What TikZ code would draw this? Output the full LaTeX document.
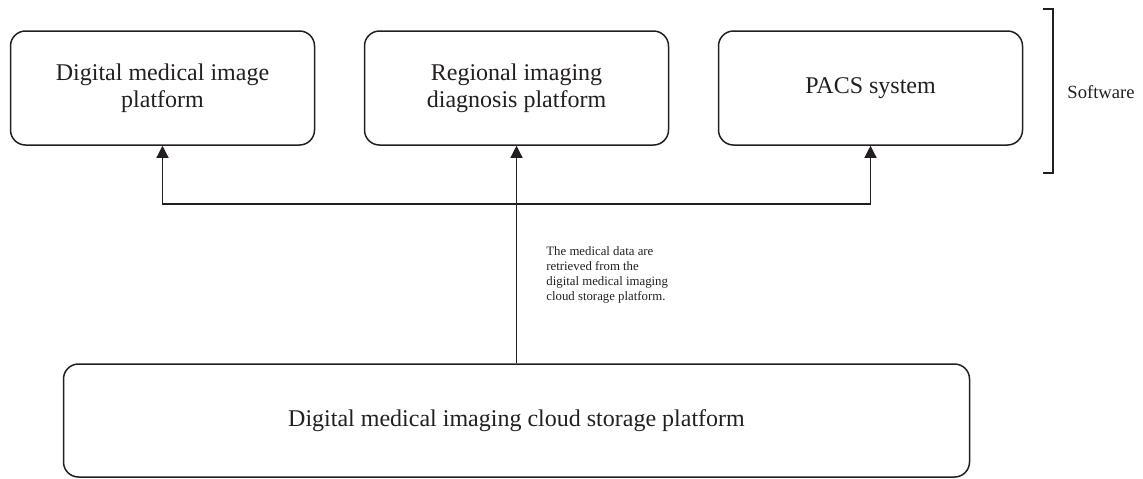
\documentclass[tikz,border=0pt]{standalone}
\usepackage{fontspec}
\setmainfont{Liberation Serif}
\usepackage{xcolor}
\usetikzlibrary{arrows.meta}
\definecolor{ink}{HTML}{231F20}
\tikzset{
  platform/.style={draw=ink, text=ink, rounded corners=7.5pt, line width=0.75pt, align=center,
    font=\fontsize{12}{13.5}\selectfont, minimum width=152pt, minimum height=57pt},
  up/.style={draw=ink, line width=0.6pt, -{Triangle[length=6pt,width=6pt]}}
}
\begin{document}
\begin{tikzpicture}[x=0.5pt,y=-0.5pt]
    \useasboundingbox (0,0) rectangle (1143,478);
    \node[platform] (image) at (162.5,88) {Digital medical image\\platform};
    \node[platform] (regional) at (516.5,88) {Regional imaging\\diagnosis platform};
    \node[platform] (pacs) at (870.5,88) {PACS system};
    \node[platform, minimum width=453pt, minimum height=56.5pt] (cloud) at (516.5,420.5) {Digital medical imaging cloud storage platform};
    \coordinate (split) at (516.5,204);
    \draw[up] (cloud.north) -- (regional.south);
    \draw[up] (split) -| (image.south);
    \draw[up] (split) -| (pacs.south);
    \node[anchor=west, align=left, inner sep=0pt, text=ink, font=\fontsize{6.4}{7.5}\selectfont] (note) at (546,274.5)
      {The medical data are\\retrieved from the\\digital medical imaging\\cloud storage platform.};
    % software bracket
    \coordinate (brtop) at (1043,9);
    \coordinate (brbot) at (1043,173);
    \draw[ink, line width=0.6pt] (brtop) -- ++(10,0) |- (brbot);
    \node[text=ink, font=\fontsize{9.3}{11}\selectfont] (software) at (1101,92) {Software};
\end{tikzpicture}
\end{document}
